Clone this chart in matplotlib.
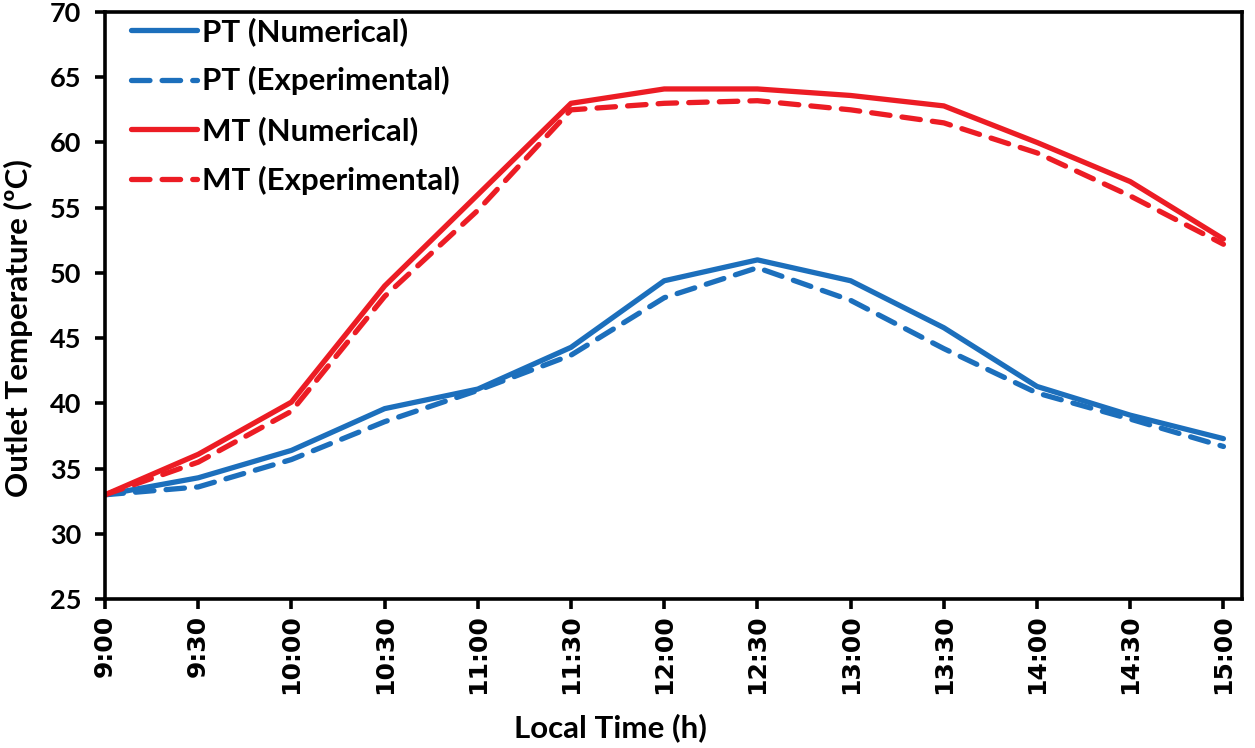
import matplotlib
matplotlib.use("Agg")
import matplotlib.pyplot as plt

times = ["9:00", "9:30", "10:00", "10:30", "11:00", "11:30", "12:00",
         "12:30", "13:00", "13:30", "14:00", "14:30", "15:00"]
pt_num = [33.0, 34.3, 36.4, 39.6, 41.1, 44.3, 49.4, 51.0, 49.4, 45.8, 41.3, 39.1, 37.3]
pt_exp = [33.0, 33.6, 35.7, 38.6, 41.0, 43.7, 48.1, 50.4, 47.9, 44.2, 40.8, 38.8, 36.7]
mt_num = [33.0, 36.1, 40.1, 49.0, 56.0, 63.0, 64.1, 64.1, 63.6, 62.8, 60.0, 57.0, 52.6]
mt_exp = [33.0, 35.5, 39.4, 48.2, 54.8, 62.5, 63.0, 63.2, 62.5, 61.5, 59.2, 55.9, 52.2]

blue = "#1C6FBC"
red = "#EC1C24"

plt.rcParams['font.family'] = ['Lato', 'DejaVu Sans']

fig = plt.figure(figsize=(12.55, 7.48), dpi=100)
ax = fig.add_axes([0.0837, 0.199, 0.9060, 0.785])

x = list(range(len(times)))
lw = 3.8
dash = (0, (3.5, 2.3))
ax.plot(x, pt_num, color=blue, lw=lw, solid_capstyle='round', label="PT (Numerical)")
ax.plot(x, pt_exp, color=blue, lw=lw, ls=dash, dash_capstyle='round', label="PT (Experimental)")
ax.plot(x, mt_num, color=red, lw=lw, solid_capstyle='round', label="MT (Numerical)")
ax.plot(x, mt_exp, color=red, lw=lw, ls=dash, dash_capstyle='round', label="MT (Experimental)")

ax.set_xlim(0, 12.2)
ax.set_ylim(25, 70)
ax.set_yticks(range(25, 71, 5))
ax.set_xticks(x)
ax.set_xticklabels(times, rotation=90, fontsize=18, fontweight='bold', family=['DejaVu Sans'])
for lab in ax.get_yticklabels():
    lab.set_fontsize(19.5)
    lab.set_fontweight('bold')

for s in ax.spines.values():
    s.set_linewidth(2.6)
    s.set_color('black')
ax.tick_params(axis='both', direction='out', length=7, width=2.6)
ax.tick_params(axis='x', pad=4)
ax.tick_params(axis='y', pad=10)

fig.text(610 / 1255, 1 - 728 / 748, "Local Time (h)", fontsize=22.5, fontweight='bold',
         ha='center', va='center')
fig.text(18 / 1255, 1 - 328 / 748, "Outlet Temperature (ºC)", fontsize=22.5, fontweight='bold',
         ha='center', va='center', rotation=90)

leg = ax.legend(loc='upper left', frameon=False, prop={'weight': 'bold', 'size': 22.5},
                handlelength=2.1, handletextpad=0.15, labelspacing=0.66,
                borderaxespad=0.0, bbox_to_anchor=(0.012, 1.013))

fig.savefig("out.png", dpi=100)
